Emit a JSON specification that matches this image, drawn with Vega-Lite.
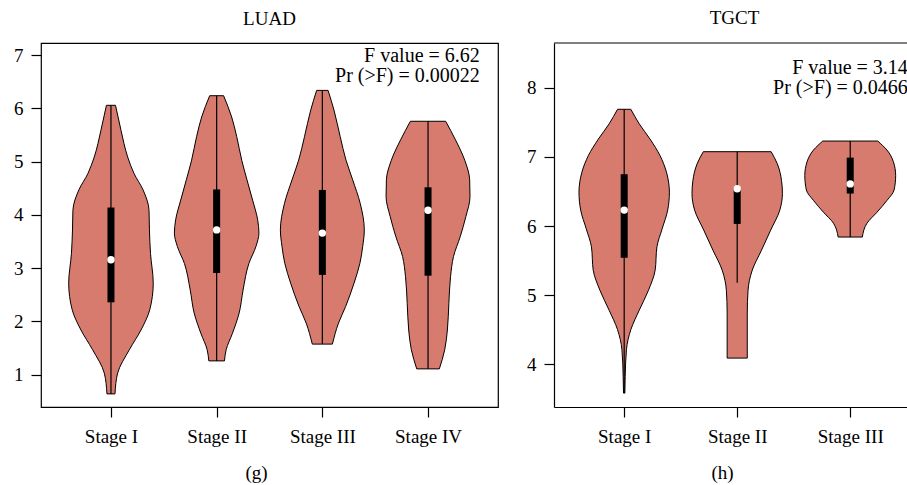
{
  "$schema": "https://vega.github.io/schema/vega-lite/v6.json",
  "padding": {"left": 12, "top": 9, "right": 0, "bottom": 0},
  "background": "white",
  "spacing": 27,
  "config": {
    "font": "Liberation Serif",
    "view": {"stroke": "black", "strokeWidth": 1.2},
    "axis": {
      "domain": false, "grid": false,
      "tickColor": "black", "tickSize": 10, "tickWidth": 1.2,
      "labelColor": "black", "labelFont": "Liberation Serif", "labelFontSize": 19,
      "titleColor": "black", "titleFont": "Liberation Serif", "titleFontSize": 19, "titleFontWeight": "normal"
    },
    "title": {"font": "Liberation Serif", "fontSize": 19, "fontWeight": "normal", "color": "black"}
  },
  "datasets": {
    "luadV": [
      {"stage": "Stage I", "value": 6.06, "lo": 0.957, "hi": 1.043},
      {"stage": "Stage I", "value": 5.59, "lo": 0.905, "hi": 1.095},
      {"stage": "Stage I", "value": 5.09, "lo": 0.842, "hi": 1.158},
      {"stage": "Stage I", "value": 4.78, "lo": 0.782, "hi": 1.218},
      {"stage": "Stage I", "value": 4.47, "lo": 0.696, "hi": 1.304},
      {"stage": "Stage I", "value": 4.09, "lo": 0.64, "hi": 1.36},
      {"stage": "Stage I", "value": 3.72, "lo": 0.636, "hi": 1.364},
      {"stage": "Stage I", "value": 3.28, "lo": 0.626, "hi": 1.374},
      {"stage": "Stage I", "value": 2.72, "lo": 0.6, "hi": 1.4},
      {"stage": "Stage I", "value": 2.22, "lo": 0.633, "hi": 1.367},
      {"stage": "Stage I", "value": 1.84, "lo": 0.716, "hi": 1.284},
      {"stage": "Stage I", "value": 1.47, "lo": 0.826, "hi": 1.174},
      {"stage": "Stage I", "value": 1.03, "lo": 0.937, "hi": 1.063},
      {"stage": "Stage I", "value": 0.64, "lo": 0.962, "hi": 1.038},
      {"stage": "Stage II", "value": 6.24, "lo": 1.934, "hi": 2.066},
      {"stage": "Stage II", "value": 5.84, "lo": 1.858, "hi": 2.142},
      {"stage": "Stage II", "value": 5.47, "lo": 1.81, "hi": 2.19},
      {"stage": "Stage II", "value": 5.03, "lo": 1.763, "hi": 2.237},
      {"stage": "Stage II", "value": 4.66, "lo": 1.713, "hi": 2.287},
      {"stage": "Stage II", "value": 4.28, "lo": 1.66, "hi": 2.34},
      {"stage": "Stage II", "value": 3.91, "lo": 1.612, "hi": 2.388},
      {"stage": "Stage II", "value": 3.66, "lo": 1.6, "hi": 2.4},
      {"stage": "Stage II", "value": 3.41, "lo": 1.628, "hi": 2.372},
      {"stage": "Stage II", "value": 3.09, "lo": 1.695, "hi": 2.305},
      {"stage": "Stage II", "value": 2.59, "lo": 1.75, "hi": 2.25},
      {"stage": "Stage II", "value": 2.16, "lo": 1.787, "hi": 2.213},
      {"stage": "Stage II", "value": 1.78, "lo": 1.85, "hi": 2.15},
      {"stage": "Stage II", "value": 1.47, "lo": 1.91, "hi": 2.09},
      {"stage": "Stage II", "value": 1.26, "lo": 1.926, "hi": 2.074},
      {"stage": "Stage III", "value": 6.34, "lo": 2.946, "hi": 3.054},
      {"stage": "Stage III", "value": 5.97, "lo": 2.89, "hi": 3.11},
      {"stage": "Stage III", "value": 5.47, "lo": 2.831, "hi": 3.169},
      {"stage": "Stage III", "value": 5.03, "lo": 2.776, "hi": 3.224},
      {"stage": "Stage III", "value": 4.66, "lo": 2.713, "hi": 3.287},
      {"stage": "Stage III", "value": 4.22, "lo": 2.642, "hi": 3.358},
      {"stage": "Stage III", "value": 3.72, "lo": 2.603, "hi": 3.397},
      {"stage": "Stage III", "value": 3.41, "lo": 2.618, "hi": 3.382},
      {"stage": "Stage III", "value": 3.09, "lo": 2.645, "hi": 3.355},
      {"stage": "Stage III", "value": 2.72, "lo": 2.7, "hi": 3.3},
      {"stage": "Stage III", "value": 2.28, "lo": 2.78, "hi": 3.22},
      {"stage": "Stage III", "value": 1.97, "lo": 2.847, "hi": 3.153},
      {"stage": "Stage III", "value": 1.575, "lo": 2.905, "hi": 3.095},
      {"stage": "Stage IV", "value": 5.76, "lo": 3.833, "hi": 4.167},
      {"stage": "Stage IV", "value": 5.41, "lo": 3.74, "hi": 4.26},
      {"stage": "Stage IV", "value": 5.03, "lo": 3.653, "hi": 4.347},
      {"stage": "Stage IV", "value": 4.66, "lo": 3.606, "hi": 4.394},
      {"stage": "Stage IV", "value": 4.34, "lo": 3.603, "hi": 4.397},
      {"stage": "Stage IV", "value": 3.97, "lo": 3.642, "hi": 4.358},
      {"stage": "Stage IV", "value": 3.59, "lo": 3.696, "hi": 4.304},
      {"stage": "Stage IV", "value": 3.22, "lo": 3.759, "hi": 4.241},
      {"stage": "Stage IV", "value": 2.84, "lo": 3.787, "hi": 4.213},
      {"stage": "Stage IV", "value": 2.34, "lo": 3.803, "hi": 4.197},
      {"stage": "Stage IV", "value": 1.84, "lo": 3.817, "hi": 4.183},
      {"stage": "Stage IV", "value": 1.47, "lo": 3.842, "hi": 4.158},
      {"stage": "Stage IV", "value": 1.11, "lo": 3.893, "hi": 4.107}
    ],
    "tgctV": [
      {"stage": "Stage I", "value": 7.69, "lo": 0.941, "hi": 1.059},
      {"stage": "Stage I", "value": 7.48, "lo": 0.867, "hi": 1.133},
      {"stage": "Stage I", "value": 7.26, "lo": 0.772, "hi": 1.228},
      {"stage": "Stage I", "value": 7.02, "lo": 0.683, "hi": 1.317},
      {"stage": "Stage I", "value": 6.78, "lo": 0.626, "hi": 1.374},
      {"stage": "Stage I", "value": 6.49, "lo": 0.6, "hi": 1.4},
      {"stage": "Stage I", "value": 6.23, "lo": 0.615, "hi": 1.385},
      {"stage": "Stage I", "value": 5.96, "lo": 0.664, "hi": 1.336},
      {"stage": "Stage I", "value": 5.7, "lo": 0.71, "hi": 1.29},
      {"stage": "Stage I", "value": 5.36, "lo": 0.726, "hi": 1.274},
      {"stage": "Stage I", "value": 5.07, "lo": 0.785, "hi": 1.215},
      {"stage": "Stage I", "value": 4.78, "lo": 0.867, "hi": 1.133},
      {"stage": "Stage I", "value": 4.5, "lo": 0.941, "hi": 1.059},
      {"stage": "Stage I", "value": 4.21, "lo": 0.98, "hi": 1.02},
      {"stage": "Stage I", "value": 3.82, "lo": 0.991, "hi": 1.009},
      {"stage": "Stage I", "value": 3.58, "lo": 0.994, "hi": 1.006},
      {"stage": "Stage II", "value": 7.076, "lo": 1.7, "hi": 2.3},
      {"stage": "Stage II", "value": 6.9, "lo": 1.645, "hi": 2.355},
      {"stage": "Stage II", "value": 6.66, "lo": 1.608, "hi": 2.392},
      {"stage": "Stage II", "value": 6.47, "lo": 1.6, "hi": 2.4},
      {"stage": "Stage II", "value": 6.23, "lo": 1.623, "hi": 2.377},
      {"stage": "Stage II", "value": 5.94, "lo": 1.704, "hi": 2.296},
      {"stage": "Stage II", "value": 5.65, "lo": 1.785, "hi": 2.215},
      {"stage": "Stage II", "value": 5.36, "lo": 1.867, "hi": 2.133},
      {"stage": "Stage II", "value": 5.07, "lo": 1.904, "hi": 2.096},
      {"stage": "Stage II", "value": 4.74, "lo": 1.911, "hi": 2.089},
      {"stage": "Stage II", "value": 4.087, "lo": 1.911, "hi": 2.089},
      {"stage": "Stage III", "value": 7.23, "lo": 2.757, "hi": 3.243},
      {"stage": "Stage III", "value": 7.1, "lo": 2.675, "hi": 3.325},
      {"stage": "Stage III", "value": 6.93, "lo": 2.618, "hi": 3.382},
      {"stage": "Stage III", "value": 6.73, "lo": 2.598, "hi": 3.402},
      {"stage": "Stage III", "value": 6.52, "lo": 2.612, "hi": 3.388},
      {"stage": "Stage III", "value": 6.37, "lo": 2.675, "hi": 3.325},
      {"stage": "Stage III", "value": 6.2, "lo": 2.763, "hi": 3.237},
      {"stage": "Stage III", "value": 6.04, "lo": 2.852, "hi": 3.148},
      {"stage": "Stage III", "value": 5.84, "lo": 2.893, "hi": 3.107}
    ],
    "luadS": [
      {"stage": "Stage I", "pos": 1, "min": 0.64, "q1": 2.36, "median": 3.16, "q3": 4.14, "max": 6.06},
      {"stage": "Stage II", "pos": 2, "min": 1.26, "q1": 2.91, "median": 3.72, "q3": 4.48, "max": 6.24},
      {"stage": "Stage III", "pos": 3, "min": 1.575, "q1": 2.875, "median": 3.66, "q3": 4.47, "max": 6.34},
      {"stage": "Stage IV", "pos": 4, "min": 1.11, "q1": 2.86, "median": 4.09, "q3": 4.52, "max": 5.76}
    ],
    "tgctS": [
      {"stage": "Stage I", "pos": 1, "min": 3.58, "q1": 5.54, "median": 6.23, "q3": 6.75, "max": 7.69},
      {"stage": "Stage II", "pos": 2, "min": 5.18, "q1": 6.03, "median": 6.54, "q3": 6.55, "max": 7.076},
      {"stage": "Stage III", "pos": 3, "min": 5.84, "q1": 6.47, "median": 6.61, "q3": 6.99, "max": 7.23}
    ]
  },
  "hconcat": [
    {
      "width": 457,
      "height": 364,
      "title": {"text": "LUAD", "offset": 14},
      "layer": [
        {
          "data": {"name": "luadV"},
          "mark": {"type": "area", "orient": "horizontal", "interpolate": "monotone", "fill": "#D67B6D", "fillOpacity": 1, "stroke": "black", "strokeWidth": 1},
          "encoding": {
            "y": {"field": "value", "type": "quantitative", "scale": {"domain": [0.394, 7.23], "nice": false, "zero": false},
                  "axis": {"values": [1, 2, 3, 4, 5, 6, 7], "format": "d", "title": null, "labelPadding": 8}},
            "x": {"field": "lo", "type": "quantitative", "scale": {"domain": [0.338, 4.662], "nice": false, "zero": false},
                  "axis": {"values": [1, 2, 3, 4], "labelExpr": "['', 'Stage I', 'Stage II', 'Stage III', 'Stage IV'][datum.value]", "labelPadding": 10, "title": "(g)", "titlePadding": 17, "titleX": 215}},
            "x2": {"field": "hi"},
            "detail": {"field": "stage"}
          }
        },
        {
          "data": {"name": "luadS"},
          "mark": {"type": "rule", "color": "black", "strokeWidth": 1.2},
          "encoding": {"x": {"field": "pos", "type": "quantitative"}, "y": {"field": "min", "type": "quantitative"}, "y2": {"field": "max"}}
        },
        {
          "data": {"name": "luadS"},
          "mark": {"type": "rule", "color": "black", "strokeWidth": 7, "strokeCap": "butt"},
          "encoding": {"x": {"field": "pos", "type": "quantitative"}, "y": {"field": "q1", "type": "quantitative"}, "y2": {"field": "q3"}}
        },
        {
          "data": {"name": "luadS"},
          "mark": {"type": "point", "filled": true, "color": "white", "opacity": 1, "size": 55},
          "encoding": {"x": {"field": "pos", "type": "quantitative"}, "y": {"field": "median", "type": "quantitative"}}
        },
        {
          "data": {"values": [{"label": "stats"}]},
          "mark": {"type": "text", "align": "right", "baseline": "top", "fontSize": 20, "lineHeight": 20, "color": "black", "font": "Liberation Serif"},
          "encoding": {
            "x": {"datum": 4.49, "type": "quantitative"},
            "y": {"datum": 7.17, "type": "quantitative"},
            "text": {"value": ["F value = 6.62", "Pr (>F) = 0.00022"]}
          }
        }
      ]
    },
    {
      "width": 355,
      "height": 364,
      "title": {"text": "TGCT", "offset": 14, "dx": 3},
      "view": {"stroke": null},
      "layer": [
        {
          "data": {"name": "tgctV"},
          "mark": {"type": "area", "orient": "horizontal", "interpolate": "monotone", "fill": "#D67B6D", "fillOpacity": 1, "stroke": "black", "strokeWidth": 1},
          "encoding": {
            "y": {"field": "value", "type": "quantitative", "scale": {"domain": [3.379, 8.65], "nice": false, "zero": false},
                  "axis": {"values": [4, 5, 6, 7, 8], "format": "d", "title": null, "labelPadding": 8, "domain": true, "domainColor": "black", "domainWidth": 1.2}},
            "x": {"field": "lo", "type": "quantitative", "scale": {"domain": [0.379, 3.52], "nice": false, "zero": false},
                  "axis": {"values": [1, 2, 3], "labelExpr": "['', 'Stage I', 'Stage II', 'Stage III'][datum.value]", "labelPadding": 10, "title": "(h)", "titlePadding": 17, "titleX": 168, "domain": true, "domainColor": "black", "domainWidth": 1.2}},
            "x2": {"field": "hi"},
            "detail": {"field": "stage"}
          }
        },
        {
          "data": {"values": [{"edge": "top"}]},
          "mark": {"type": "rule", "color": "black", "strokeWidth": 1.2},
          "encoding": {"y": {"datum": 8.65, "type": "quantitative"}}
        },
        {
          "data": {"name": "tgctS"},
          "mark": {"type": "rule", "color": "black", "strokeWidth": 1.2},
          "encoding": {"x": {"field": "pos", "type": "quantitative"}, "y": {"field": "min", "type": "quantitative"}, "y2": {"field": "max"}}
        },
        {
          "data": {"name": "tgctS"},
          "mark": {"type": "rule", "color": "black", "strokeWidth": 7, "strokeCap": "butt"},
          "encoding": {"x": {"field": "pos", "type": "quantitative"}, "y": {"field": "q1", "type": "quantitative"}, "y2": {"field": "q3"}}
        },
        {
          "data": {"name": "tgctS"},
          "mark": {"type": "point", "filled": true, "color": "white", "opacity": 1, "size": 55},
          "encoding": {"x": {"field": "pos", "type": "quantitative"}, "y": {"field": "median", "type": "quantitative"}}
        },
        {
          "data": {"values": [{"label": "stats"}]},
          "mark": {"type": "text", "align": "right", "baseline": "top", "fontSize": 20, "lineHeight": 20, "color": "black", "font": "Liberation Serif"},
          "encoding": {
            "x": {"datum": 3.51, "type": "quantitative"},
            "y": {"datum": 8.44, "type": "quantitative"},
            "text": {"value": ["F value = 3.14", "Pr (>F) = 0.0466"]}
          }
        }
      ]
    }
  ]
}
